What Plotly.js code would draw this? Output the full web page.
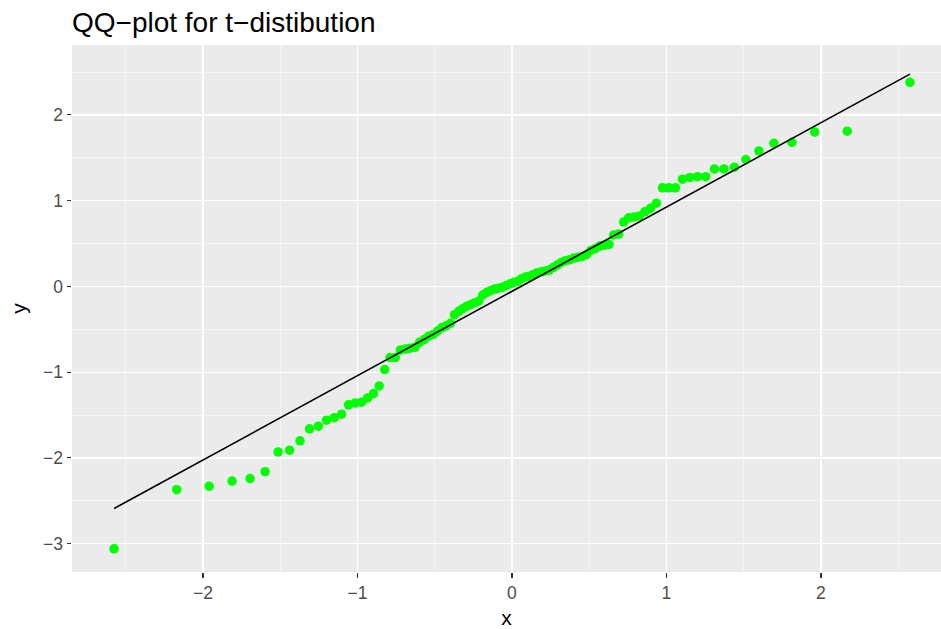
<!DOCTYPE html>
<html>
<head>
<meta charset="utf-8">
<script src="https://cdn.plot.ly/plotly-3.0.1.min.js"></script>
<style>html,body{margin:0;padding:0;background:#fff;}#chart{width:941px;height:629px;}</style>
</head>
<body>
<div id="chart"></div>
<script>
// Theoretical normal quantiles (x) and sample quantiles (y)
const theoretical = [
 -2.5758,-2.1701,-1.9600,-1.8119,-1.6954,-1.5982,-1.5141,-1.4395,-1.3722,-1.3106,
 -1.2536,-1.2004,-1.1503,-1.1031,-1.0581,-1.0152,-0.9741,-0.9346,-0.8965,-0.8596,
 -0.8239,-0.7892,-0.7554,-0.7225,-0.6903,-0.6588,-0.6280,-0.5978,-0.5681,-0.5388,
 -0.5101,-0.4817,-0.4538,-0.4261,-0.3989,-0.3719,-0.3451,-0.3186,-0.2924,-0.2663,
 -0.2404,-0.2147,-0.1891,-0.1637,-0.1383,-0.1130,-0.0878,-0.0627,-0.0376,-0.0125,
  0.0125, 0.0376, 0.0627, 0.0878, 0.1130, 0.1383, 0.1637, 0.1891, 0.2147, 0.2404,
  0.2663, 0.2924, 0.3186, 0.3451, 0.3719, 0.3989, 0.4261, 0.4538, 0.4817, 0.5101,
  0.5388, 0.5681, 0.5978, 0.6280, 0.6588, 0.6903, 0.7225, 0.7554, 0.7892, 0.8239,
  0.8596, 0.8965, 0.9346, 0.9741, 1.0152, 1.0581, 1.1031, 1.1503, 1.2004, 1.2536,
  1.3106, 1.3722, 1.4395, 1.5141, 1.5982, 1.6954, 1.8119, 1.9600, 2.1701, 2.5758
];
const sample = [
 -3.06,-2.37,-2.33,-2.27,-2.24,-2.16,-1.93,-1.91,-1.80,-1.66,
 -1.63,-1.56,-1.53,-1.49,-1.38,-1.36,-1.35,-1.30,-1.25,-1.16,
 -0.97,-0.83,-0.83,-0.74,-0.73,-0.72,-0.71,-0.65,-0.62,-0.58,
 -0.56,-0.52,-0.48,-0.46,-0.43,-0.33,-0.29,-0.26,-0.23,-0.21,
 -0.19,-0.17,-0.10,-0.07,-0.05,-0.03,-0.02,-0.01, 0.01, 0.03,
  0.05, 0.06, 0.09, 0.11, 0.12, 0.14, 0.16, 0.17, 0.18, 0.19,
  0.22, 0.25, 0.28, 0.30, 0.31, 0.33, 0.34, 0.35, 0.37, 0.42,
  0.44, 0.47, 0.48, 0.49, 0.60, 0.61, 0.75, 0.80, 0.81, 0.82,
  0.87, 0.91, 0.97, 1.15, 1.15, 1.15, 1.25, 1.27, 1.28, 1.28,
  1.37, 1.37, 1.39, 1.48, 1.58, 1.67, 1.68, 1.80, 1.81, 2.38
];
// Reference line end points
const lineX = [-2.5758, 2.5758];
const lineY = [-2.59, 2.475];
const xTicks = [-2, -1, 0, 1, 2];
const yTicks = [-3, -2, -1, 0, 1, 2];
const tickText = v => (v < 0 ? '\u2212' + Math.abs(v) : String(v));

const traces = [
  {x: theoretical, y: sample, type: 'scatter', mode: 'markers',
   marker: {color: '#00FF00', size: 9.5}, hoverinfo: 'x+y', showlegend: false},
  {x: lineX, y: lineY, type: 'scatter', mode: 'lines',
   line: {color: '#000000', width: 1.6}, showlegend: false}
];
const axisCommon = {
  showline: false, zeroline: false, showgrid: true,
  gridcolor: '#FFFFFF', gridwidth: 1.3,
  ticks: 'outside', ticklen: 4.5, tickwidth: 1.1, tickcolor: '#333333',
  tickfont: {family: 'Liberation Sans, Arial, sans-serif', size: 17.5, color: '#4D4D4D'},
  minor: {dtick: 0.5, showgrid: true, gridcolor: '#FFFFFF', gridwidth: 0.6, ticks: ''}
};
const layout = {
  width: 941, height: 629,
  paper_bgcolor: '#FFFFFF', plot_bgcolor: '#EBEBEB',
  margin: {l: 72, r: 0, t: 45, b: 57, pad: 0},
  font: {family: 'Liberation Sans, Arial, sans-serif'},
  title: {text: 'QQ\u2212plot for t\u2212distibution', x: 0, xref: 'paper', xanchor: 'left',
          y: 1 - 22/629, yref: 'container', yanchor: 'middle',
          font: {size: 28, color: '#000000'}},
  xaxis: Object.assign({}, axisCommon, {range: [-2.848, 2.777], tickvals: xTicks,
          ticktext: xTicks.map(tickText),
          title: {text: 'x', font: {size: 21, color: '#000000'}, standoff: 8}}),
  yaxis: Object.assign({}, axisCommon, {range: [-3.33, 2.815], tickvals: yTicks,
          ticktext: yTicks.map(tickText),
          title: {text: 'y', font: {size: 21, color: '#000000'}, standoff: 10}}),
  showlegend: false
};
Plotly.newPlot('chart', traces, layout, {displayModeBar: false, staticPlot: true});
</script>
</body>
</html>
